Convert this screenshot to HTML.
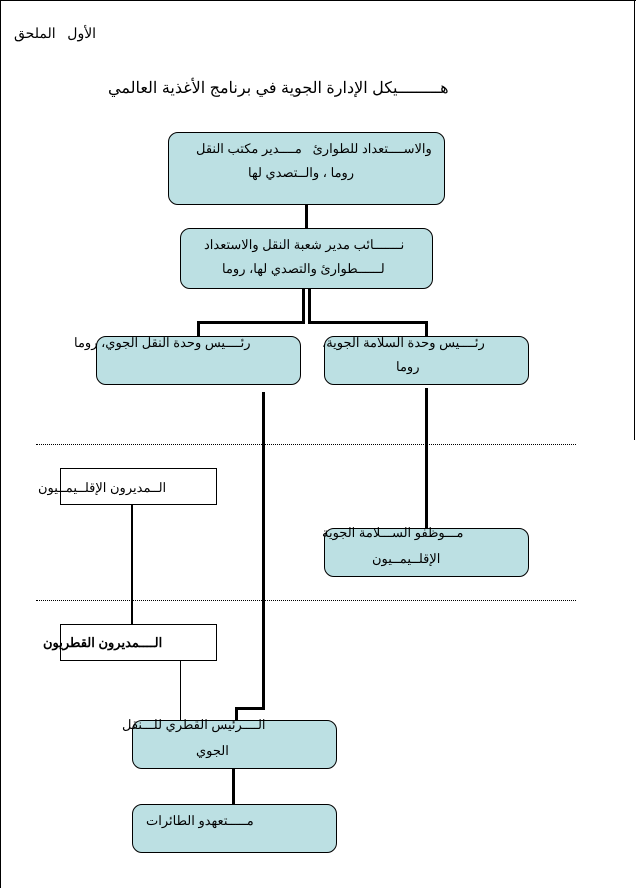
<!DOCTYPE html>
<html><head><meta charset="utf-8"><style>
body{margin:0;width:636px;height:888px;position:relative;background:#fff;font-family:"Liberation Sans","Noto Sans CJK SC",sans-serif;font-size:13px;color:#000;overflow:hidden}
.a{position:absolute;box-sizing:border-box}
.r{background:#bce0e3;border:1px solid #000;border-radius:10px}
.w{background:#fff;border:1px solid #000}
.t{position:absolute;white-space:nowrap;direction:rtl;font-size:13px;line-height:14px}
.l{position:absolute;background:#000}
.d{position:absolute;height:0;border-top:1px dotted #000}
</style></head><body>
<div class="l" style="left:0;top:0;width:1px;height:888px"></div>
<div class="l" style="left:0;top:0;width:636px;height:1px"></div>
<div class="l" style="left:634px;top:0;width:1px;height:440px"></div>

<div class="t" style="left:14px;top:26px;font-size:14px">الأول &nbsp; الملحق</div>
<div class="t" style="left:108px;top:82px;font-size:16px">هـــــــــيكل الإدارة الجوية في برنامج الأغذية العالمي</div>

<div class="l" style="left:305px;top:204px;width:3px;height:25px"></div>
<div class="l" style="left:302px;top:288px;width:3px;height:35px"></div>
<div class="l" style="left:308px;top:288px;width:3px;height:35px"></div>
<div class="l" style="left:197px;top:321px;width:108px;height:3px"></div>
<div class="l" style="left:197px;top:321px;width:3px;height:16px"></div>
<div class="l" style="left:308px;top:321px;width:120px;height:3px"></div>
<div class="l" style="left:425px;top:321px;width:3px;height:16px"></div>
<div class="l" style="left:262px;top:392px;width:3px;height:318px"></div>
<div class="l" style="left:235px;top:707px;width:30px;height:3px"></div>
<div class="l" style="left:235px;top:707px;width:3px;height:14px"></div>
<div class="l" style="left:425px;top:388px;width:3px;height:141px"></div>
<div class="l" style="left:131px;top:504px;width:2px;height:120px"></div>
<div class="l" style="left:180px;top:660px;width:1px;height:60px"></div>
<div class="l" style="left:232px;top:768px;width:3px;height:37px"></div>

<div class="d" style="left:36px;top:444px;width:540px"></div>
<div class="d" style="left:36px;top:600px;width:540px"></div>

<div class="a r" style="left:168px;top:132px;width:277px;height:73px"></div>
<div class="t" style="left:196px;top:142px">والاســــتعداد للطوارئ &nbsp; مــــدير مكتب النقل</div>
<div class="t" style="left:248px;top:166px">روما ، والــتصدي لها</div>

<div class="a r" style="left:180px;top:228px;width:253px;height:61px"></div>
<div class="t" style="left:204px;top:238px">نـــــــائب مدير شعبة النقل والاستعداد</div>
<div class="t" style="left:222px;top:262px">لــــــطوارئ والتصدي لها، روما</div>

<div class="a r" style="left:96px;top:336px;width:205px;height:49px"></div>
<div class="t" style="left:74px;top:336px">رئــــيس وحدة النقل الجوي، روما</div>
<div class="a r" style="left:324px;top:336px;width:205px;height:49px"></div>
<div class="t" style="left:322px;top:336px">رئــــيس وحدة السلامة الجوية،</div>
<div class="t" style="left:396px;top:360px">روما</div>

<div class="a w" style="left:60px;top:468px;width:157px;height:37px"></div>
<div class="t" style="left:38px;top:481px">الــمديرون الإقلــيمــيون</div>

<div class="a r" style="left:324px;top:528px;width:205px;height:49px"></div>
<div class="t" style="left:322px;top:526px">مـــوظفو الســـلامة الجوية</div>
<div class="t" style="left:372px;top:552px">الإقلــيمــيون</div>

<div class="a w" style="left:60px;top:624px;width:157px;height:37px"></div>
<div class="t" style="left:43px;top:636px;font-weight:bold">الــــمديرون القطريون</div>

<div class="a r" style="left:132px;top:720px;width:205px;height:49px"></div>
<div class="t" style="left:122px;top:718px">الــــرئيس القطري للـــنقل</div>
<div class="t" style="left:196px;top:744px">الجوي</div>

<div class="a r" style="left:132px;top:804px;width:205px;height:49px"></div>
<div class="t" style="left:146px;top:814px">مـــــتعهدو الطائرات</div>
</body></html>
